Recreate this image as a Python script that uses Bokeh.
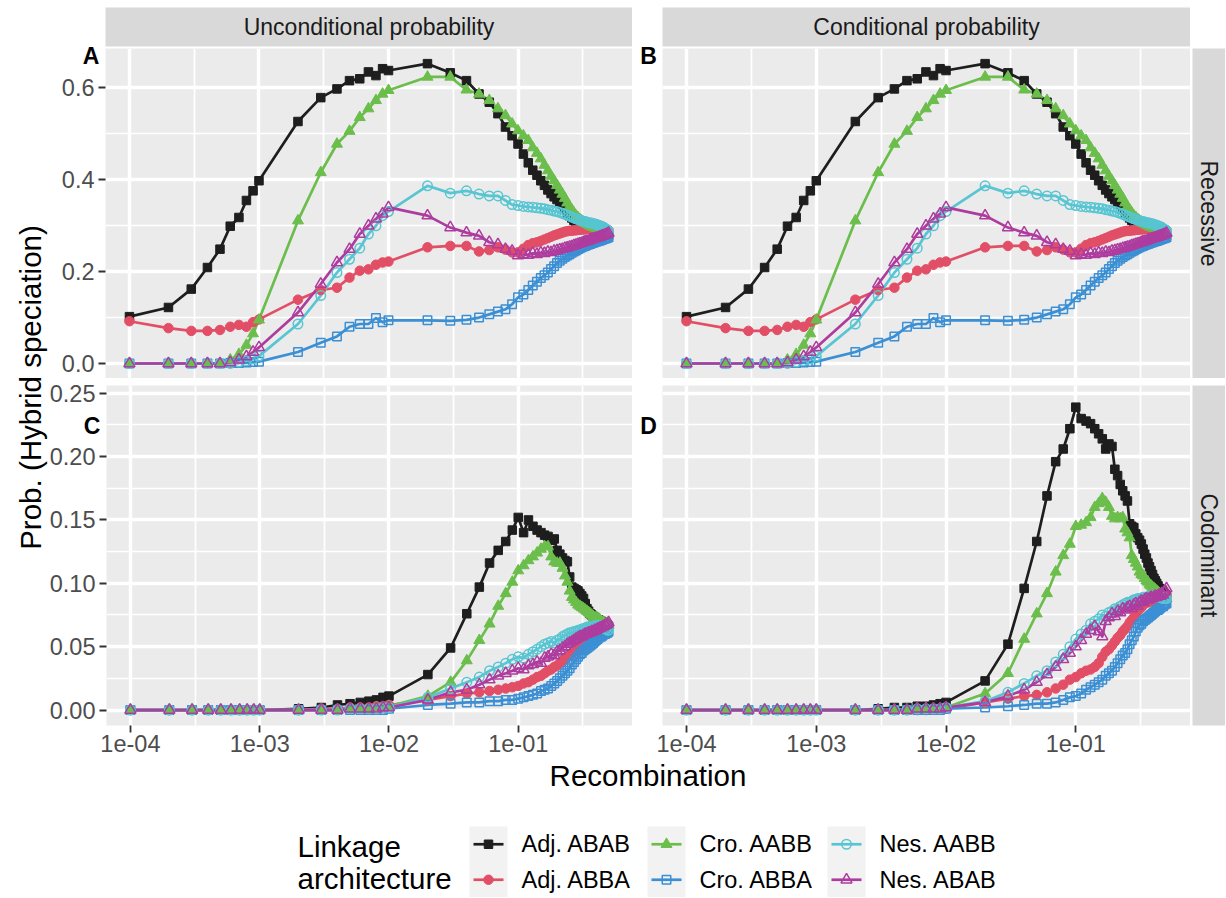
import math
from bokeh.plotting import figure
from bokeh.models import Range1d, FixedTicker, Grid, Label, Spacer, NumeralTickFormatter, GridBox
from bokeh.layouts import row, column
from bokeh.embed import file_html
from bokeh.resources import INLINE
from bokeh.core.properties import value

FONT = "Liberation Sans"

# ---------------- data ----------------
recomb = [0.0001, 0.0002, 0.0003, 0.0004, 0.0005, 0.0006, 0.0007, 0.0008, 0.0009,
          0.001, 0.002, 0.003, 0.004, 0.005, 0.006, 0.007, 0.008, 0.009,
          0.01, 0.02, 0.03, 0.04, 0.05, 0.06, 0.07, 0.08, 0.09,
          0.10, 0.11, 0.12, 0.13, 0.14, 0.15, 0.16, 0.17, 0.18, 0.19,
          0.20, 0.21, 0.22, 0.23, 0.24, 0.25, 0.26, 0.27, 0.28, 0.29,
          0.30, 0.31, 0.32, 0.33, 0.34, 0.35, 0.36, 0.37, 0.38, 0.39,
          0.40, 0.41, 0.42, 0.43, 0.44, 0.45, 0.46, 0.47, 0.48, 0.49, 0.50]

series_names = ["Adj. ABAB", "Adj. ABBA", "Cro. AABB", "Cro. ABBA", "Nes. AABB", "Nes. ABAB"]

# Recessive (top row; the two panels show the same values)
rec_adj_abab = [0.102, 0.122, 0.162, 0.209, 0.249, 0.299, 0.318, 0.355, 0.376,
                0.398, 0.527, 0.579, 0.598, 0.616, 0.620, 0.635, 0.627, 0.642,
                0.638, 0.653, 0.633, 0.616, 0.587, 0.569, 0.544, 0.515, 0.496,
                0.478, 0.456, 0.437, 0.421, 0.410, 0.398, 0.388, 0.378, 0.370, 0.363,
                0.357, 0.351, 0.345, 0.336, 0.328, 0.322, 0.317, 0.312, 0.308, 0.305,
                0.302, 0.300, 0.298, 0.297, 0.296, 0.295, 0.294, 0.293, 0.292, 0.291,
                0.290, 0.289, 0.288, 0.287, 0.286, 0.285, 0.284, 0.283, 0.282, 0.281, 0.279]
rec_adj_abba = [0.092, 0.077, 0.071, 0.071, 0.073, 0.080, 0.084, 0.080, 0.090,
                0.096, 0.139, 0.160, 0.165, 0.187, 0.202, 0.205, 0.215, 0.220,
                0.222, 0.253, 0.256, 0.256, 0.244, 0.247, 0.253, 0.248, 0.242,
                0.242, 0.250, 0.258, 0.262, 0.264, 0.267, 0.270, 0.273, 0.276, 0.279,
                0.281, 0.283, 0.285, 0.287, 0.288, 0.289, 0.289, 0.290, 0.290, 0.291,
                0.291, 0.292, 0.292, 0.292, 0.293, 0.293, 0.293, 0.293, 0.293, 0.293,
                0.292, 0.292, 0.292, 0.292, 0.291, 0.291, 0.291, 0.290, 0.290, 0.290, 0.290]
rec_cro_aabb = [0.0, 0.0, 0.0, 0.0, 0.0, 0.008, 0.020, 0.040, 0.065,
                0.095, 0.311, 0.416, 0.478, 0.506, 0.536, 0.555, 0.573, 0.587,
                0.595, 0.624, 0.624, 0.596, 0.587, 0.573, 0.555, 0.540, 0.522,
                0.507, 0.496, 0.486, 0.470, 0.458, 0.446, 0.432, 0.420, 0.408, 0.398,
                0.388, 0.378, 0.369, 0.360, 0.350, 0.342, 0.335, 0.328, 0.322, 0.318,
                0.314, 0.311, 0.308, 0.306, 0.304, 0.302, 0.300, 0.299, 0.297, 0.296,
                0.295, 0.294, 0.293, 0.292, 0.291, 0.290, 0.289, 0.288, 0.287, 0.286, 0.285]
rec_cro_abba = [0.0, 0.0, 0.0, 0.0, 0.0, 0.001, 0.001, 0.002, 0.003,
                0.004, 0.025, 0.045, 0.059, 0.080, 0.086, 0.086, 0.099, 0.090,
                0.094, 0.094, 0.093, 0.095, 0.100, 0.107, 0.113, 0.118, 0.129,
                0.144, 0.150, 0.160, 0.170, 0.178, 0.186, 0.192, 0.198, 0.206, 0.212,
                0.219, 0.224, 0.228, 0.232, 0.235, 0.238, 0.241, 0.244, 0.246, 0.249,
                0.251, 0.253, 0.255, 0.256, 0.258, 0.259, 0.260, 0.262, 0.263, 0.264,
                0.265, 0.266, 0.267, 0.268, 0.269, 0.270, 0.271, 0.272, 0.273, 0.274, 0.275]
rec_nes_aabb = [0.0, 0.0, 0.0, 0.0, 0.0, 0.0, 0.003, 0.006, 0.010,
                0.016, 0.086, 0.148, 0.198, 0.227, 0.251, 0.282, 0.300, 0.322,
                0.331, 0.387, 0.371, 0.376, 0.369, 0.365, 0.365, 0.355, 0.346,
                0.344, 0.342, 0.341, 0.340, 0.339, 0.338, 0.337, 0.335, 0.334, 0.332,
                0.331, 0.329, 0.327, 0.325, 0.323, 0.321, 0.319, 0.317, 0.315, 0.314,
                0.312, 0.311, 0.310, 0.309, 0.308, 0.307, 0.306, 0.306, 0.305, 0.304,
                0.303, 0.302, 0.301, 0.300, 0.299, 0.298, 0.296, 0.294, 0.292, 0.291, 0.289]
rec_nes_abab = [0.0, 0.0, 0.0, 0.0, 0.0, 0.002, 0.008, 0.015, 0.025,
                0.035, 0.111, 0.173, 0.220, 0.249, 0.282, 0.300, 0.315, 0.326,
                0.340, 0.322, 0.296, 0.285, 0.278, 0.264, 0.259, 0.249, 0.245,
                0.235, 0.238, 0.236, 0.240, 0.238, 0.241, 0.240, 0.243, 0.242, 0.245,
                0.246, 0.248, 0.249, 0.251, 0.252, 0.254, 0.255, 0.257, 0.258, 0.260,
                0.261, 0.262, 0.264, 0.265, 0.266, 0.267, 0.269, 0.270, 0.271, 0.272,
                0.273, 0.274, 0.275, 0.276, 0.277, 0.278, 0.279, 0.280, 0.281, 0.282, 0.284]

# Codominant, unconditional probability (panel C)
cod_u_adj_abab = [0, 0, 0, 0, 0, 0, 0, 0, 0,
                  0.000, 0.001, 0.002, 0.004, 0.005, 0.006, 0.007, 0.008, 0.010,
                  0.011, 0.028, 0.049, 0.076, 0.097, 0.116, 0.126, 0.133, 0.142,
                  0.152, 0.140, 0.150, 0.145, 0.142, 0.140, 0.138, 0.137, 0.134, 0.135,
                  0.126, 0.123, 0.120, 0.118, 0.117, 0.105, 0.097, 0.096, 0.095, 0.094,
                  0.092, 0.090, 0.088, 0.084, 0.080, 0.078, 0.076, 0.075, 0.074, 0.073,
                  0.072, 0.071, 0.071, 0.070, 0.070, 0.069, 0.068, 0.068, 0.067, 0.067, 0.066]
cod_u_adj_abba = [0, 0, 0, 0, 0, 0, 0, 0, 0,
                  0.000, 0.000, 0.001, 0.001, 0.002, 0.002, 0.002, 0.003, 0.003,
                  0.004, 0.008, 0.011, 0.013, 0.014, 0.015, 0.016, 0.017, 0.018,
                  0.019, 0.021, 0.022, 0.024, 0.026, 0.027, 0.029, 0.031, 0.032, 0.034,
                  0.035, 0.037, 0.039, 0.040, 0.042, 0.043, 0.045, 0.046, 0.048, 0.049,
                  0.051, 0.052, 0.053, 0.054, 0.055, 0.056, 0.057, 0.058, 0.059, 0.059,
                  0.060, 0.061, 0.061, 0.062, 0.062, 0.062, 0.063, 0.063, 0.063, 0.064, 0.064]
cod_u_cro_aabb = [0, 0, 0, 0, 0, 0, 0, 0, 0,
                  0.000, 0.000, 0.000, 0.000, 0.001, 0.001, 0.001, 0.002, 0.002,
                  0.003, 0.011, 0.022, 0.039, 0.055, 0.068, 0.082, 0.092, 0.101,
                  0.110, 0.114, 0.118, 0.121, 0.124, 0.127, 0.129, 0.129, 0.121, 0.117,
                  0.116, 0.116, 0.112, 0.106, 0.101, 0.094, 0.089, 0.087, 0.085, 0.083,
                  0.082, 0.081, 0.080, 0.079, 0.078, 0.077, 0.076, 0.075, 0.074, 0.073,
                  0.073, 0.072, 0.072, 0.071, 0.070, 0.069, 0.069, 0.068, 0.068, 0.067, 0.067]
cod_u_cro_abba = [0, 0, 0, 0, 0, 0, 0, 0, 0,
                  0, 0, 0, 0, 0, 0, 0, 0, 0,
                  0.001, 0.004, 0.005, 0.006, 0.006, 0.007, 0.007, 0.008, 0.008,
                  0.009, 0.010, 0.011, 0.012, 0.013, 0.015, 0.016, 0.017, 0.019, 0.021,
                  0.023, 0.025, 0.027, 0.029, 0.031, 0.033, 0.036, 0.038, 0.040, 0.042,
                  0.044, 0.045, 0.047, 0.048, 0.049, 0.050, 0.051, 0.052, 0.053, 0.054,
                  0.055, 0.056, 0.057, 0.058, 0.058, 0.059, 0.060, 0.060, 0.061, 0.061, 0.062]
cod_u_nes_aabb = [0, 0, 0, 0, 0, 0, 0, 0, 0,
                  0.000, 0.000, 0.000, 0.000, 0.001, 0.001, 0.001, 0.001, 0.002,
                  0.002, 0.010, 0.017, 0.022, 0.026, 0.031, 0.034, 0.037, 0.040,
                  0.042, 0.041, 0.044, 0.046, 0.048, 0.050, 0.052, 0.053, 0.054, 0.053,
                  0.055, 0.056, 0.058, 0.059, 0.060, 0.061, 0.061, 0.062, 0.062, 0.063,
                  0.063, 0.064, 0.064, 0.065, 0.065, 0.066, 0.065, 0.066, 0.066, 0.066,
                  0.067, 0.066, 0.067, 0.066, 0.066, 0.065, 0.065, 0.064, 0.064, 0.063, 0.063]
cod_u_nes_abab = [0, 0, 0, 0, 0, 0, 0, 0, 0,
                  0.000, 0.000, 0.000, 0.000, 0.001, 0.001, 0.001, 0.001, 0.002,
                  0.002, 0.008, 0.014, 0.016, 0.020, 0.024, 0.027, 0.029, 0.031,
                  0.033, 0.032, 0.035, 0.036, 0.038, 0.037, 0.041, 0.042, 0.044, 0.043,
                  0.046, 0.047, 0.049, 0.050, 0.052, 0.053, 0.054, 0.055, 0.056, 0.057,
                  0.058, 0.058, 0.059, 0.060, 0.060, 0.061, 0.061, 0.062, 0.062, 0.063,
                  0.063, 0.064, 0.064, 0.065, 0.065, 0.066, 0.066, 0.067, 0.067, 0.068, 0.069]

# Codominant, conditional probability (panel D)
cod_c_adj_abab = [0, 0, 0, 0, 0, 0, 0, 0, 0,
                  0.000, 0.000, 0.001, 0.002, 0.002, 0.003, 0.003, 0.004, 0.005,
                  0.006, 0.023, 0.052, 0.096, 0.133, 0.169, 0.196, 0.206, 0.222,
                  0.239, 0.230, 0.228, 0.226, 0.222, 0.218, 0.214, 0.206, 0.210, 0.208,
                  0.190, 0.185, 0.178, 0.173, 0.169, 0.165, 0.147, 0.145, 0.144, 0.139,
                  0.136, 0.134, 0.131, 0.127, 0.123, 0.120, 0.116, 0.113, 0.110, 0.107,
                  0.104, 0.102, 0.100, 0.098, 0.096, 0.095, 0.094, 0.093, 0.092, 0.091, 0.090]
cod_c_adj_abba = [0, 0, 0, 0, 0, 0, 0, 0, 0,
                  0.000, 0.000, 0.000, 0.000, 0.000, 0.000, 0.000, 0.001, 0.001,
                  0.001, 0.006, 0.009, 0.011, 0.012, 0.014, 0.017, 0.020, 0.024,
                  0.026, 0.029, 0.031, 0.032, 0.034, 0.037, 0.042, 0.046, 0.048, 0.051,
                  0.054, 0.057, 0.059, 0.062, 0.064, 0.066, 0.069, 0.071, 0.073, 0.075,
                  0.078, 0.080, 0.081, 0.083, 0.084, 0.085, 0.085, 0.086, 0.086, 0.087,
                  0.087, 0.087, 0.088, 0.088, 0.088, 0.088, 0.089, 0.089, 0.089, 0.089, 0.090]
cod_c_cro_aabb = [0, 0, 0, 0, 0, 0, 0, 0, 0,
                  0.000, 0.000, 0.000, 0.000, 0.000, 0.001, 0.001, 0.001, 0.001,
                  0.002, 0.013, 0.029, 0.056, 0.076, 0.092, 0.109, 0.122, 0.131,
                  0.145, 0.146, 0.148, 0.152, 0.160, 0.163, 0.167, 0.164, 0.160, 0.153,
                  0.151, 0.152, 0.151, 0.152, 0.143, 0.140, 0.136, 0.122, 0.119, 0.116,
                  0.113, 0.109, 0.107, 0.106, 0.104, 0.102, 0.101, 0.099, 0.098, 0.097,
                  0.096, 0.095, 0.094, 0.093, 0.092, 0.091, 0.090, 0.090, 0.089, 0.088, 0.088]
cod_c_cro_abba = [0, 0, 0, 0, 0, 0, 0, 0, 0,
                  0, 0, 0, 0, 0, 0, 0, 0, 0,
                  0.001, 0.002, 0.003, 0.004, 0.005, 0.005, 0.006, 0.008, 0.010,
                  0.011, 0.013, 0.016, 0.018, 0.020, 0.022, 0.024, 0.027, 0.029, 0.031,
                  0.034, 0.037, 0.040, 0.043, 0.045, 0.048, 0.052, 0.055, 0.058, 0.062,
                  0.065, 0.067, 0.068, 0.070, 0.071, 0.072, 0.073, 0.074, 0.075, 0.076,
                  0.077, 0.078, 0.079, 0.079, 0.080, 0.081, 0.082, 0.082, 0.083, 0.084, 0.084]
cod_c_nes_aabb = [0, 0, 0, 0, 0, 0, 0, 0, 0,
                  0.000, 0.000, 0.000, 0.000, 0.000, 0.001, 0.001, 0.001, 0.001,
                  0.002, 0.007, 0.014, 0.021, 0.027, 0.031, 0.038, 0.044, 0.050,
                  0.056, 0.060, 0.063, 0.068, 0.070, 0.072, 0.075, 0.074, 0.077, 0.078,
                  0.080, 0.080, 0.082, 0.083, 0.084, 0.085, 0.085, 0.086, 0.087, 0.087,
                  0.088, 0.088, 0.088, 0.089, 0.089, 0.089, 0.089, 0.090, 0.090, 0.090,
                  0.090, 0.090, 0.090, 0.089, 0.089, 0.089, 0.089, 0.088, 0.088, 0.088, 0.088]
cod_c_nes_abab = [0, 0, 0, 0, 0, 0, 0, 0, 0,
                  0.000, 0.000, 0.000, 0.000, 0.000, 0.001, 0.001, 0.001, 0.001,
                  0.002, 0.006, 0.011, 0.016, 0.022, 0.028, 0.034, 0.040, 0.045,
                  0.050, 0.055, 0.060, 0.063, 0.066, 0.062, 0.058, 0.070, 0.073, 0.076,
                  0.074, 0.078, 0.077, 0.080, 0.079, 0.081, 0.082, 0.080, 0.083, 0.084,
                  0.082, 0.085, 0.086, 0.085, 0.087, 0.088, 0.087, 0.088, 0.089, 0.088,
                  0.089, 0.090, 0.089, 0.090, 0.091, 0.090, 0.092, 0.091, 0.093, 0.094, 0.096]

panel_data = {
    "A": [rec_adj_abab, rec_adj_abba, rec_cro_aabb, rec_cro_abba, rec_nes_aabb, rec_nes_abab],
    "B": [rec_adj_abab, rec_adj_abba, rec_cro_aabb, rec_cro_abba, rec_nes_aabb, rec_nes_abab],
    "C": [cod_u_adj_abab, cod_u_adj_abba, cod_u_cro_aabb, cod_u_cro_abba, cod_u_nes_aabb, cod_u_nes_abab],
    "D": [cod_c_adj_abab, cod_c_adj_abba, cod_c_cro_aabb, cod_c_cro_abba, cod_c_nes_aabb, cod_c_nes_abab],
}

col_titles = ["Unconditional probability", "Conditional probability"]
row_titles = ["Recessive", "Codominant"]
x_tick_values = [1e-4, 1e-3, 1e-2, 1e-1]
x_tick_labels = ["1e-04", "1e-03", "1e-02", "1e-01"]
x_minor_values = [10 ** -3.5, 10 ** -2.5, 10 ** -1.5, 10 ** -0.5]
top_y_ticks = [0.0, 0.2, 0.4, 0.6]
top_y_minor = [0.1, 0.3, 0.5]
bot_y_ticks = [0.0, 0.05, 0.10, 0.15, 0.20, 0.25]
bot_y_minor = [0.025, 0.075, 0.125, 0.175, 0.225]

# ---------------- style ----------------
colors = ["#1E1E1E", "#E24E66", "#6BBE4B", "#3B8FD4", "#57C5D2", "#AE3C9F"]
markers = ["square", "circle", "triangle", "square", "circle", "triangle"]
filled = [True, True, True, False, False, False]
msize = [8.5, 9.5, 11, 8.5, 9.5, 11]
LINE_W = 2.7

X_LO, X_HI = 10 ** -4.18495, 10 ** -0.11608
TOP_Y = (-0.0327, 0.686)
BOT_Y = (-0.0122, 0.2561)

PAGE_W, PAGE_H = 1225, 897
LEFT_PAD = 46          # y-title column
LEFT_B = 59            # y tick labels
GAP_B = 30             # gap between panel columns
STRIP_W = 35           # right strip column
FRAME_W_L, FRAME_W_R = 527, 528
STRIP_H = 48           # top strip row (grey 7..46)
TOP_H, BOT_H = 330, 340
ROW_GAP = 7
X_AXIS_B = 36


def make_panel(key, yr, y_ticks, y_minor, y_fmt, show_x, show_y, width, height, left_b, bottom_b, top_b):
    p = figure(width=width, height=height, x_axis_type="log",
               x_range=Range1d(X_LO, X_HI), y_range=Range1d(*yr),
               x_axis_location="below" if show_x else None,
               y_axis_location="left" if show_y else None,
               title=None, toolbar_location=None, output_backend="svg",
               background_fill_color="#EBEBEB", border_fill_color="white",
               outline_line_color=None, min_border=0,
               min_border_left=left_b, min_border_bottom=bottom_b,
               min_border_top=top_b, min_border_right=0)
    p.center = [r for r in p.center if not isinstance(r, Grid)]
    p.add_layout(Grid(dimension=0, ticker=FixedTicker(ticks=x_tick_values, minor_ticks=x_minor_values),
                      grid_line_color="white", grid_line_width=3.4,
                      minor_grid_line_color="white", minor_grid_line_width=1.7), "center")
    p.add_layout(Grid(dimension=1, ticker=FixedTicker(ticks=y_ticks, minor_ticks=y_minor),
                      grid_line_color="white", grid_line_width=3.4,
                      minor_grid_line_color="white", minor_grid_line_width=1.7), "center")
    axes = []
    if show_x:
        ax = p.xaxis[0]
        ax.ticker = FixedTicker(ticks=x_tick_values)
        ax.major_label_overrides = dict(zip(x_tick_values, x_tick_labels))
        ax.major_label_standoff = 2
        axes.append(ax)
    if show_y:
        ay = p.yaxis[0]
        ay.ticker = FixedTicker(ticks=y_ticks)
        ay.formatter = NumeralTickFormatter(format=y_fmt)
        ay.major_label_standoff = 4
        axes.append(ay)
    for a in axes:
        a.axis_line_color = None
        a.major_tick_line_color = "#333333"
        a.major_tick_line_width = 1.8
        a.major_tick_out = 7
        a.major_tick_in = 0
        a.minor_tick_line_color = None
        a.major_label_text_font = FONT
        a.major_label_text_font_size = "23.5px"
        a.major_label_text_color = "#4D4D4D"

    vals = panel_data[key]
    for i, ys in enumerate(vals):
        p.line(recomb, ys, line_color=colors[i], line_width=LINE_W, line_join="round")
    for i, ys in enumerate(vals):
        p.scatter(recomb, ys, marker=markers[i], size=msize[i],
                  fill_color=colors[i] if filled[i] else None,
                  line_color=colors[i], line_width=1.0 if filled[i] else 1.5)
    return p


def strip(text, w, h, left_b=0, bottom_b=0, top_b=0, angle=0.0):
    s = figure(width=w, height=h, x_range=Range1d(0, 1), y_range=Range1d(0, 1),
               title=None, toolbar_location=None, output_backend="svg",
               x_axis_location=None, y_axis_location=None,
               background_fill_color="#D9D9D9", border_fill_color="white",
               outline_line_color=None, min_border=0,
               min_border_left=left_b, min_border_bottom=bottom_b,
               min_border_top=top_b, min_border_right=0)
    s.grid.visible = False
    s.add_layout(Label(x=0.5, y=0.5, text=text, text_align="center", text_baseline="middle",
                       angle=angle, text_font=FONT, text_font_size="23px", text_color="#1A1A1A"))
    return s


# top row: frame only (48..378); bottom row carries the gap above its frame (378..385)
pA = make_panel("A", TOP_Y, top_y_ticks, top_y_minor, "0.0", False, True,
                LEFT_B + FRAME_W_L, TOP_H, LEFT_B, 0, 0)
pB = make_panel("B", TOP_Y, top_y_ticks, top_y_minor, "0.0", False, False,
                GAP_B + FRAME_W_R, TOP_H, GAP_B, 0, 0)
pC = make_panel("C", BOT_Y, bot_y_ticks, bot_y_minor, "0.00", True, True,
                LEFT_B + FRAME_W_L, ROW_GAP + BOT_H + X_AXIS_B, LEFT_B, X_AXIS_B, ROW_GAP)
pD = make_panel("D", BOT_Y, bot_y_ticks, bot_y_minor, "0.00", True, False,
                GAP_B + FRAME_W_R, ROW_GAP + BOT_H + X_AXIS_B, GAP_B, X_AXIS_B, ROW_GAP)

top_strips = row(Spacer(width=LEFT_B, height=STRIP_H),
                 strip(col_titles[0], FRAME_W_L, STRIP_H, bottom_b=2, top_b=7),
                 Spacer(width=GAP_B, height=STRIP_H),
                 strip(col_titles[1], FRAME_W_R, STRIP_H, bottom_b=2, top_b=7),
                 Spacer(width=STRIP_W, height=STRIP_H))
row_top = row(pA, pB, strip(row_titles[0], STRIP_W, TOP_H, left_b=2, angle=-math.pi / 2))
row_bot = row(pC, pD, strip(row_titles[1], STRIP_W, ROW_GAP + BOT_H + X_AXIS_B, left_b=2,
                            bottom_b=X_AXIS_B, top_b=ROW_GAP, angle=-math.pi / 2))
panels = column(top_strips, row_top, row_bot)

UPPER_H = STRIP_H + TOP_H + ROW_GAP + BOT_H + X_AXIS_B
upper = row(Spacer(width=LEFT_PAD, height=UPPER_H), panels)

# ---------------- bottom: legend ----------------
BW, BH = PAGE_W, PAGE_H - UPPER_H
bottom = figure(width=BW, height=BH, x_range=Range1d(0, BW), y_range=Range1d(BH, 0),
                title=None, toolbar_location=None, output_backend="svg",
                x_axis_location=None, y_axis_location=None, outline_line_color=None,
                background_fill_color="white", border_fill_color="white", min_border=0)
bottom.grid.visible = False

# legend layout in this strip's own pixel grid (y grows downward)
key_left = [469, 647, 827]
key_w, key_h = 38, 35.5
key_top = 826 - UPPER_H
row_cy = [key_top + key_h * 0.5, key_top + key_h * 1.5]
for i, name in enumerate(series_names):
    c, r = i // 2, i % 2
    kx, cy = key_left[c], row_cy[r]
    bottom.quad(left=[kx], right=[kx + key_w], top=[cy - key_h / 2], bottom=[cy + key_h / 2],
                fill_color="#F2F2F2", line_color=None)
    bottom.segment(x0=[kx + 4], y0=[cy], x1=[kx + key_w - 4], y1=[cy],
                   line_color=colors[i], line_width=LINE_W)
    bottom.scatter([kx + key_w / 2], [cy], marker=markers[i], size=msize[i],
                   fill_color=colors[i] if filled[i] else None,
                   line_color=colors[i], line_width=1.0 if filled[i] else 1.5)
    bottom.text(x=[kx + key_w + 14], y=[cy], text=[name], text_align="left", text_baseline="middle",
                text_font=value(FONT), text_font_size="23.5px", text_color="black")

bottom.text(x=[297, 297], y=[row_cy[0] + 2, row_cy[1] - 1], text=["Linkage", "architecture"],
            text_align="left", text_baseline="middle", text_font=value(FONT),
            text_font_size="29.5px", text_color="black")

main = column(upper, bottom)

# ---------------- transparent overlay for free-floating texts ----------------
OV_H = UPPER_H + 40
overlay = figure(width=PAGE_W, height=OV_H, x_range=Range1d(0, PAGE_W),
                 y_range=Range1d(OV_H, 0),
                 title=None, toolbar_location=None, output_backend="svg",
                 x_axis_location=None, y_axis_location=None, outline_line_color=None,
                 background_fill_alpha=0, border_fill_alpha=0, min_border=0)
overlay.grid.visible = False
overlay.align = "start"
panel_tags = [("A", 90.5, 55), ("B", 648, 55), ("C", 91.5, 425), ("D", 648, 425)]
for t, tx, ty in panel_tags:
    overlay.add_layout(Label(x=tx, y=ty, text=t, text_align="center", text_baseline="middle",
                             text_font=FONT, text_font_style="bold", text_font_size="23px",
                             text_color="black"))
overlay.add_layout(Label(x=30, y=387, text="Prob. (Hybrid speciation)", angle=math.pi / 2,
                         text_align="center", text_baseline="middle", text_font=FONT,
                         text_font_size="29.5px", text_color="black"))
overlay.add_layout(Label(x=647.5, y=775, text="Recombination", text_align="center",
                         text_baseline="middle", text_font=FONT, text_font_size="29.5px",
                         text_color="black"))

page = GridBox(children=[(main, 0, 0), (overlay, 0, 0)])

open("out.html", "w").write(file_html(page, INLINE))
